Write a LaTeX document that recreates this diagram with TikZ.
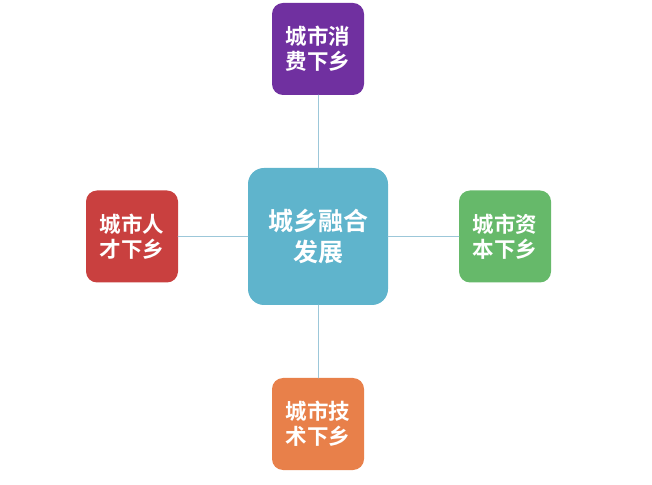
\documentclass[tikz,border=0pt]{standalone}
\usepackage{fontspec}
\newfontfamily\cjk{Noto Sans CJK SC Bold}
\definecolor{hub}{HTML}{5FB4CC}
\definecolor{link}{HTML}{9CC7D9}
\definecolor{xiaofei}{HTML}{7030A0}
\definecolor{rencai}{HTML}{C9403F}
\definecolor{ziben}{HTML}{66B96A}
\definecolor{jishu}{HTML}{E8804A}
\begin{document}
\begin{tikzpicture}[x=1pt,y=1pt,line join=round,line cap=round,
		box/.style={rounded corners=11pt,minimum width=92pt,minimum height=92pt,text=white,align=center,font=\cjk\fontsize{21.5}{25}\selectfont,inner sep=0pt},
		hubbox/.style={box,rounded corners=16pt,minimum width=140pt,minimum height=137pt,fill=hub,font=\cjk\fontsize{25}{31}\selectfont}]
			\useasboundingbox (0,0) rectangle (652,484);
			\node[hubbox] (hub) at (318,247.5){城乡融合\\发展};
			\node[box,fill=xiaofei] (xf) at (318,435){城市消\\费下乡};
			\node[box,fill=rencai] (rc) at (132,247.5){城市人\\才下乡};
			\node[box,fill=ziben] (zb) at (505,247.5){城市资\\本下乡};
			\node[box,fill=jishu] (js) at (318,60){城市技\\术下乡};
			\foreach \n in {xf,rc,zb,js}{\draw[link,line width=1pt] (hub)--(\n);}
		\end{tikzpicture}
\end{document}
